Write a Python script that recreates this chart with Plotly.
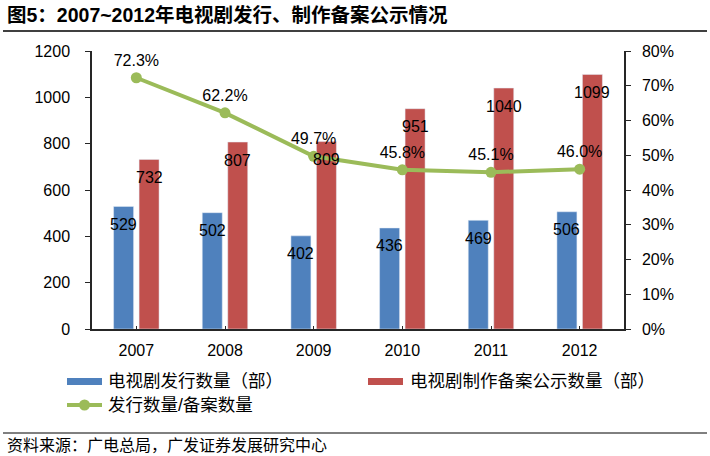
import plotly.graph_objects as go

# ---- data ----
years = ["2007", "2008", "2009", "2010", "2011", "2012"]
released = [529, 502, 402, 436, 469, 506]          # 电视剧发行数量（部）
filed = [732, 807, 809, 951, 1040, 1099]           # 电视剧制作备案公示数量（部）
ratio = [0.723, 0.622, 0.497, 0.458, 0.451, 0.460] # 发行数量/备案数量

name_released = "电视剧发行数量（部）"
name_filed = "电视剧制作备案公示数量（部）"
name_ratio = "发行数量/备案数量"
title_text = "<b>图5：2007~2012年电视剧发行、制作备案公示情况</b>"
source_text = "资料来源：广电总局，广发证券发展研究中心"

# ---- style ----
W, H = 710, 456
L, R, T, B = 92, 624, 51, 329   # plot area in pixels
BLUE, RED, GREEN = "#4F81BD", "#C0504D", "#9BBB59"
FONT = "Liberation Sans, Arial, Noto Sans CJK SC, sans-serif"
AX = "#262626"

def px(x):
    return (x - L) / (R - L)

def py(y):
    return (B - y) / (B - T)

fig = go.Figure()
fig.add_trace(go.Bar(x=years, y=released, name=name_released, marker_color=BLUE,
                     showlegend=False))
fig.add_trace(go.Bar(x=years, y=filed, name=name_filed, marker_color=RED,
                     showlegend=False))
fig.add_trace(go.Scatter(x=years, y=ratio, name=name_ratio, yaxis="y2",
                         mode="lines+markers+text",
                         line=dict(color=GREEN, width=4),
                         marker=dict(color=GREEN, size=11),
                         texttemplate="%{y:.1%}", textposition="top center",
                         textfont=dict(size=16, color="#000", family=FONT),
                         showlegend=False, cliponaxis=False))

annotations = []
for i, v in enumerate(released):
    annotations.append(dict(x=i, y=v, xref="x", yref="y", text=str(v), showarrow=False,
                            xshift=-12.75, yshift=-18, yanchor="middle",
                            font=dict(size=16, color="#000", family=FONT)))
for i, v in enumerate(filed):
    annotations.append(dict(x=i, y=v, xref="x", yref="y", text=str(v), showarrow=False,
                            xshift=12.75, yshift=-18, yanchor="middle",
                            font=dict(size=16, color="#000", family=FONT)))

# manual legend
legend_font = dict(size=17.5, color="#000", family=FONT)
annotations += [
    dict(x=px(106), y=py(381), xref="paper", yref="paper", text=name_released,
         showarrow=False, xanchor="left", yanchor="middle", font=legend_font),
    dict(x=px(408), y=py(381), xref="paper", yref="paper", text=name_filed,
         showarrow=False, xanchor="left", yanchor="middle", font=legend_font),
    dict(x=px(106), y=py(405), xref="paper", yref="paper", text=name_ratio,
         showarrow=False, xanchor="left", yanchor="middle", font=legend_font),
    dict(x=px(5), y=py(445), xref="paper", yref="paper", text=source_text,
         showarrow=False, xanchor="left", yanchor="middle",
         font=dict(size=16, color="#000", family=FONT)),
    dict(x=px(5), y=py(15), xref="paper", yref="paper", text=title_text,
         showarrow=False, xanchor="left", yanchor="middle",
         font=dict(size=19.5, color="#000", family=FONT)),
]

shapes = [
    dict(type="rect", xref="paper", yref="paper", x0=px(67), x1=px(102), y0=py(378), y1=py(385),
         fillcolor=BLUE, line=dict(width=0)),
    dict(type="rect", xref="paper", yref="paper", x0=px(368), x1=px(403), y0=py(378), y1=py(385),
         fillcolor=RED, line=dict(width=0)),
    dict(type="line", xref="paper", yref="paper", x0=px(67), x1=px(102), y0=py(405), y1=py(405),
         line=dict(color=GREEN, width=4)),
    dict(type="circle", xref="paper", yref="paper", x0=px(79), x1=px(90), y0=py(410.5), y1=py(399.5),
         fillcolor=GREEN, line=dict(width=0)),
    dict(type="line", xref="paper", yref="paper", x0=px(3), x1=px(707), y0=py(31), y1=py(31),
         line=dict(color="#000", width=1.5)),
    dict(type="line", xref="paper", yref="paper", x0=px(3), x1=px(707), y0=py(433), y1=py(433),
         line=dict(color="#000", width=1)),
]

fig.update_layout(
    width=W, height=H,
    margin=dict(l=L, r=W - R, t=T, b=H - B, pad=0),
    paper_bgcolor="white", plot_bgcolor="white",
    font=dict(family=FONT, size=16, color="#000"),
    barmode="group", bargap=0.425, bargroupgap=0.216,
    showlegend=False,
    xaxis=dict(type="category", showline=True, linecolor=AX, linewidth=1.5, ticks="inside",
               ticklen=3, tickcolor=AX, showgrid=False, tickfont=dict(size=16),
               ticklabelstandoff=6),
    yaxis=dict(range=[0, 1200], dtick=200, showline=True, linecolor=AX, linewidth=1.5,
               ticks="outside", ticklen=5, tickcolor=AX, showgrid=False, zeroline=False,
               tickfont=dict(size=16), ticklabelstandoff=12),
    yaxis2=dict(range=[0, 0.8], dtick=0.1, tickformat=".0%", overlaying="y", side="right",
                showline=True, linecolor=AX, linewidth=1.5, ticks="outside", ticklen=5,
                tickcolor=AX, showgrid=False, zeroline=False, tickfont=dict(size=16),
                ticklabelstandoff=8),
    annotations=annotations,
    shapes=shapes,
)

fig.write_html("out.html", config={"displayModeBar": False},
               post_script="document.body.style.margin='0px';")
